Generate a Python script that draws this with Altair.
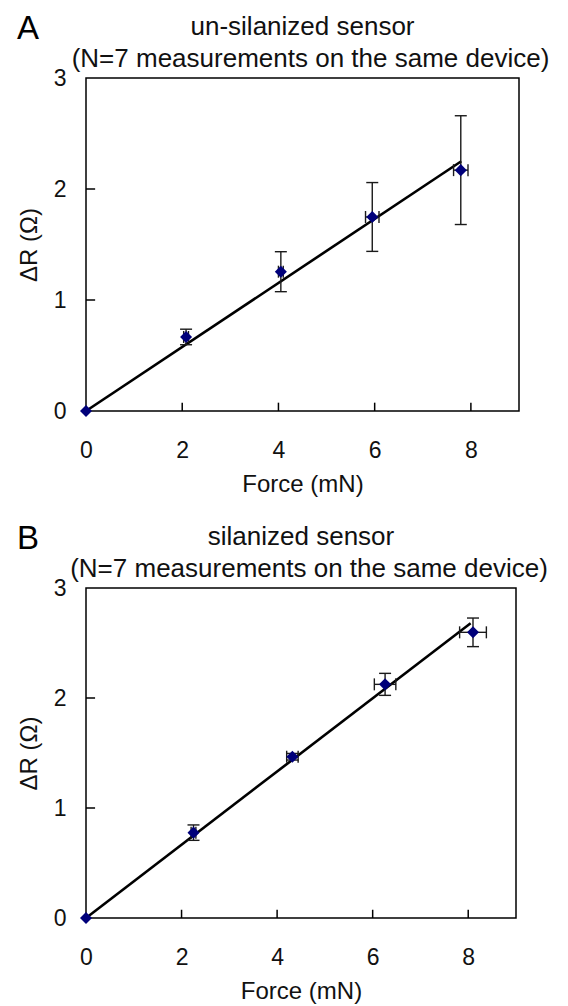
import altair as alt
import pandas as pd

FONT = "Liberation Sans"

# ---- data ----
A_force = [0, 2.08, 4.05, 5.95, 7.79]
A_dR = [0, 0.667, 1.255, 1.748, 2.17]
A_force_err = [0, 0.05, 0.05, 0.14, 0.15]
A_dR_err = [0, 0.07, 0.18, 0.31, 0.49]
A_fit_force = [0, 7.8]
A_fit_dR = [0, 2.25]

B_force = [0, 2.25, 4.32, 6.26, 8.10]
B_dR = [0, 0.776, 1.466, 2.124, 2.597]
B_force_err = [0, 0.05, 0.12, 0.225, 0.28]
B_dR_err = [0, 0.07, 0.03, 0.10, 0.13]
B_fit_force = [0, 8.05]
B_fit_dR = [0, 2.68]

X_TICK_LABELS = [0, 2, 4, 6, 8]
Y_TICK_LABELS = [0, 1, 2, 3]
X_TICK_MARKS = [2, 4, 6, 8]
Y_TICK_MARKS = [1, 2]

TITLE_SUB = "(N=7 measurements on the same device)"


def panel(letter, title1, xs, ys, xerr, yerr, fx, fy, w, h):
    pts = pd.DataFrame({"x": xs, "y": ys, "xerr": xerr, "yerr": yerr})
    fit = pd.DataFrame({"x": fx, "y": fy})
    xscale = alt.Scale(domain=[0, 9], nice=False)
    yscale = alt.Scale(domain=[0, 3], nice=False)
    xaxis = alt.Axis(values=X_TICK_LABELS, title="Force (mN)", grid=False,
                     ticks=False, domain=False, labelFontSize=23, format="d",
                     labelFlush=False, labelPadding=28, titleFontSize=24,
                     titlePadding=10, labelFont=FONT, titleFont=FONT,
                     labelColor="#111", titleColor="#111",
                     titleFontWeight="normal")
    yaxis = alt.Axis(values=Y_TICK_LABELS, title="ΔR (Ω)", grid=False,
                     ticks=False, domain=False, labelFontSize=23, format="d",
                     labelFlush=False, labelPadding=20, titleFontSize=24,
                     titlePadding=12, labelFont=FONT, titleFont=FONT,
                     labelColor="#111", titleColor="#111",
                     titleFontWeight="normal")
    X = lambda f: alt.X(f, scale=xscale, axis=xaxis)
    Y = lambda f: alt.Y(f, scale=yscale, axis=yaxis)

    line = alt.Chart(fit).mark_line(color="black", strokeWidth=2.6).encode(
        x=X("x:Q"), y=Y("y:Q"))

    base = alt.Chart(pts).transform_calculate(
        ylo="datum.y - datum.yerr", yhi="datum.y + datum.yerr",
        xlo="datum.x - datum.xerr", xhi="datum.x + datum.xerr")
    ybase = base.transform_filter("datum.yerr > 0")
    xbase = base.transform_filter("datum.xerr > 0")
    ecol = "#1a1a1a"

    ybar = ybase.mark_rule(color=ecol, strokeWidth=1.4).encode(
        x=X("x:Q"), y=Y("ylo:Q"), y2="yhi:Q")
    ycap_lo = ybase.mark_tick(orient="horizontal", color=ecol, size=12,
                              thickness=1.4, opacity=1).encode(
        x=X("x:Q"), y=Y("ylo:Q"))
    ycap_hi = ybase.mark_tick(orient="horizontal", color=ecol, size=12,
                              thickness=1.4, opacity=1).encode(
        x=X("x:Q"), y=Y("yhi:Q"))
    xbar = xbase.mark_rule(color=ecol, strokeWidth=1.4).encode(
        x=X("xlo:Q"), x2="xhi:Q", y=Y("y:Q"))
    xcap_lo = xbase.mark_tick(orient="vertical", color=ecol, size=12,
                              thickness=1.4, opacity=1).encode(
        x=X("xlo:Q"), y=Y("y:Q"))
    xcap_hi = xbase.mark_tick(orient="vertical", color=ecol, size=12,
                              thickness=1.4, opacity=1).encode(
        x=X("xhi:Q"), y=Y("y:Q"))

    points = alt.Chart(pts).mark_point(
        shape="diamond", filled=True, color="#00007a", size=145, opacity=1).encode(
        x=X("x:Q"), y=Y("y:Q"))

    xt = alt.Chart(pd.DataFrame({"t": X_TICK_MARKS})).mark_rule(
        color="black", strokeWidth=1.5).encode(
        x=X("t:Q"), y=alt.datum(0), y2=alt.datum(0.075))
    yt = alt.Chart(pd.DataFrame({"t": Y_TICK_MARKS})).mark_rule(
        color="black", strokeWidth=1.5).encode(
        y=Y("t:Q"), x=alt.datum(0), x2=alt.datum(0.19))

    lab = alt.Chart(pd.DataFrame({"l": [letter]})).mark_text(
        align="left", baseline="alphabetic", fontSize=33, font=FONT,
        color="black").encode(text="l:N", x=alt.value(-69), y=alt.value(-39))
    t1 = alt.Chart(pd.DataFrame({"l": [title1]})).mark_text(
        align="center", baseline="alphabetic", fontSize=26, font=FONT,
        color="#111").encode(text="l:N", x=alt.value(w / 2), y=alt.value(-43))
    t2 = alt.Chart(pd.DataFrame({"l": [TITLE_SUB]})).mark_text(
        align="center", baseline="alphabetic", fontSize=26, font=FONT,
        color="#111").encode(text="l:N", x=alt.value(w / 2 + 8), y=alt.value(-11))

    return alt.layer(xt, yt, line, ybar, ycap_lo, ycap_hi, xbar, xcap_lo,
                     xcap_hi, points, lab, t1, t2).properties(width=w, height=h)


pA = panel("A", "un-silanized sensor",
           A_force, A_dR, A_force_err, A_dR_err, A_fit_force, A_fit_dR, 433, 333)
pB = panel("B", "silanized sensor",
           B_force, B_dR, B_force_err, B_dR_err, B_fit_force, B_fit_dR, 430, 330)

chart = alt.vconcat(pA, pB, spacing=25).properties(
    padding={"left": 8, "top": 4, "right": 4, "bottom": 4}).configure_view(
    stroke="black", strokeWidth=1.5)

chart.save("out.html", embed_options={"renderer": "svg", "actions": False})
